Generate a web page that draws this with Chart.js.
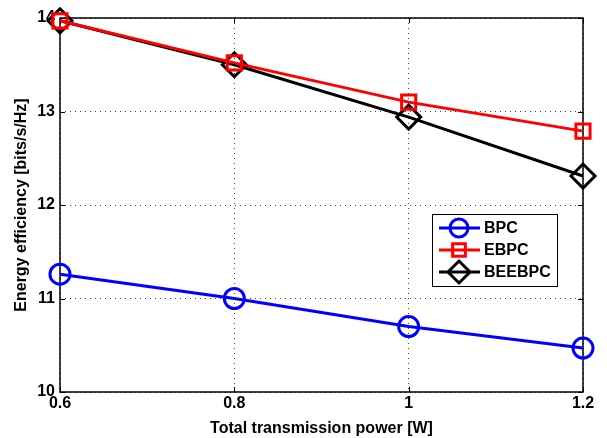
<!DOCTYPE html>
<html>
<head>
<meta charset="utf-8">
<script src="https://cdn.jsdelivr.net/npm/chart.js@4"></script>
<style>
  html, body { margin: 0; padding: 0; background: #fff; }
  #wrap { width: 607px; height: 438px; }
</style>
</head>
<body>
<div id="wrap"><canvas id="grafico" width="607" height="438"></canvas></div>
<script>
// datos
const potencias = [0.6, 0.8, 1.0, 1.2];
const xTicks = [0.6, 0.8, 1, 1.2];
const yTicks = [10, 11, 12, 13, 14];
const bpc = [11.26, 11.0, 10.70, 10.47];
const ebpc = [13.97, 13.52, 13.10, 12.79];
const beebpc = [13.97, 13.50, 12.94, 12.31];

const fuente = "'Liberation Sans', Arial, sans-serif";

function puntos(vals) {
    return potencias.map((x, i) => ({ x: x, y: vals[i] }));
}

// leyenda dentro del area de trazado (estilo matlab)
const leyendaPlugin = {
    id: 'leyendaInterna',
    afterDraw(chart) {
        const ctx = chart.ctx;
        const x0 = 432, y0 = 214, w = 125, h = 72;
        ctx.save();
        ctx.fillStyle = '#fff';
        ctx.fillRect(x0, y0, w, h);
        ctx.strokeStyle = '#000';
        ctx.lineWidth = 1;
        ctx.strokeRect(x0 + 0.5, y0 + 0.5, w, h);
        chart.data.datasets.forEach((ds, i) => {
            const cy = y0 + 14 + i * 22;
            ctx.strokeStyle = ds.borderColor;
            ctx.lineWidth = 3;
            ctx.beginPath();
            ctx.moveTo(x0 + 7, cy);
            ctx.lineTo(x0 + 48, cy);
            ctx.stroke();
            ctx.fillStyle = 'rgba(0,0,0,0)';
            Chart.helpers.drawPoint(ctx, {
                pointStyle: ds.pointStyle,
                radius: ds.pointStyle === 'rectRot' ? 11 : 9,
                borderWidth: 3
            }, x0 + 27, cy);
            ctx.fillStyle = '#000';
            ctx.font = 'bold 16px ' + fuente;
            ctx.textBaseline = 'middle';
            ctx.textAlign = 'left';
            ctx.fillText(ds.label, x0 + 52, cy + 1);
        });
        ctx.restore();
    }
};

// marco completo y marcas de graduacion hacia dentro
const marcoPlugin = {
    id: 'marco',
    beforeDatasetsDraw(chart) {
        const { left, right, top, bottom } = chart.chartArea;
        const ctx = chart.ctx;
        const sx = chart.scales.x, sy = chart.scales.y;
        ctx.save();
        ctx.strokeStyle = '#000';
        ctx.lineWidth = 1;
        ctx.beginPath();
        xTicks.forEach(v => {
            const px = Math.round(sx.getPixelForValue(v)) + 0.5;
            ctx.moveTo(px, bottom); ctx.lineTo(px, bottom - 5);
            ctx.moveTo(px, top); ctx.lineTo(px, top + 5);
        });
        yTicks.forEach(v => {
            const py = Math.round(sy.getPixelForValue(v)) + 0.5;
            ctx.moveTo(left, py); ctx.lineTo(left + 5, py);
            ctx.moveTo(right, py); ctx.lineTo(right - 5, py);
        });
        ctx.stroke();
        ctx.lineWidth = 1.5;
        ctx.strokeRect(left, top, right - left, bottom - top);
        ctx.restore();
    }
};

function estiloSerie(label, color, vals, forma, radio) {
    return {
        label: label,
        data: puntos(vals),
        borderColor: color,
        backgroundColor: 'rgba(0,0,0,0)',
        pointBorderColor: color,
        pointBackgroundColor: 'rgba(0,0,0,0)',
        borderWidth: 3,
        pointBorderWidth: 3,
        pointStyle: forma,
        pointRadius: radio,
        pointHoverRadius: radio,
        tension: 0,
        clip: false
    };
}

const ctx = document.getElementById('grafico').getContext('2d');
new Chart(ctx, {
    type: 'line',
    data: {
        datasets: [
            estiloSerie('BPC', '#0000ff', bpc, 'circle', 10),
            estiloSerie('EBPC', '#ff0000', ebpc, 'rect', 10),
            estiloSerie('BEEBPC', '#000000', beebpc, 'rectRot', 12)
        ]
    },
    options: {
        responsive: false,
        animation: false,
        events: [],
        layout: { padding: { top: 18, right: 24, left: 0, bottom: 0 } },
        plugins: { legend: { display: false }, tooltip: { enabled: false } },
        scales: {
            x: {
                type: 'linear',
                min: 0.6,
                max: 1.2,
                afterBuildTicks(axis) { axis.ticks = xTicks.map(v => ({ value: v })); },
                afterFit(axis) { axis.height = 46; },
                grid: {
                    color: '#444',
                    lineWidth: 1,
                    drawTicks: false
                },
                border: { display: false, dash: [1, 4] },
                ticks: {
                    color: '#000',
                    padding: 2,
                    maxRotation: 0,
                    font: { family: fuente, size: 16, weight: 'bold' },
                    callback: v => String(v)
                },
                title: {
                    display: true,
                    text: 'Total transmission power [W]',
                    color: '#000',
                    padding: { top: 0, bottom: 0 },
                    font: { family: fuente, size: 16, weight: 'bold' }
                }
            },
            y: {
                type: 'linear',
                min: 10,
                max: 14,
                afterBuildTicks(axis) { axis.ticks = yTicks.map(v => ({ value: v })); },
                afterFit(axis) { axis.width = 60; },
                grid: {
                    color: '#444',
                    lineWidth: 1,
                    drawTicks: false
                },
                border: { display: false, dash: [1, 4] },
                ticks: {
                    color: '#000',
                    padding: 5,
                    font: { family: fuente, size: 16, weight: 'bold' },
                    callback: v => String(v)
                },
                title: {
                    display: true,
                    text: 'Energy efficiency [bits/s/Hz]',
                    color: '#000',
                    padding: { top: 12, bottom: 0 },
                    font: { family: fuente, size: 16, weight: 'bold' }
                }
            }
        }
    },
    plugins: [marcoPlugin, leyendaPlugin]
});
</script>
</body>
</html>
